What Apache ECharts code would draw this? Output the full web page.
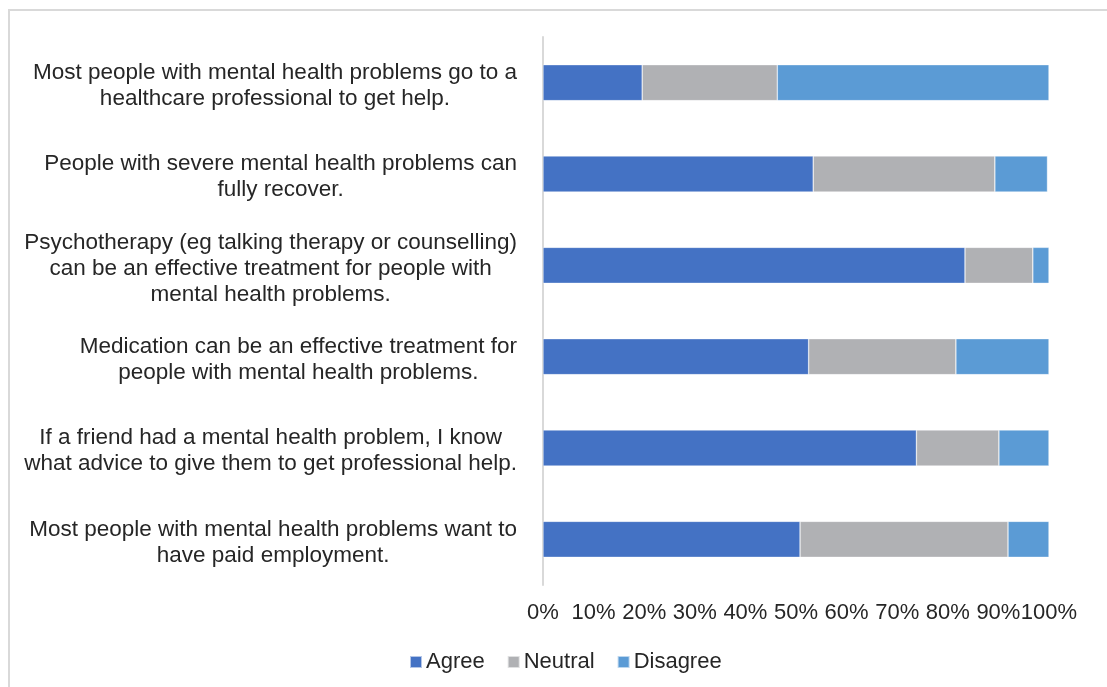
<!DOCTYPE html>
<html>
<head>
<meta charset="utf-8">
<script src="https://cdn.jsdelivr.net/npm/echarts@6/dist/echarts.min.js"></script>
<style>
  html, body { margin: 0; padding: 0; background: #fff; }
  #chart { width: 1107px; height: 687px; }
</style>
</head>
<body>
<div id="chart"></div>
<script>
// Statements, top to bottom (line breaks as they are wrapped on the axis)
const statements = [
  'Most people with mental health problems go to a\nhealthcare professional to get help.',
  'People with severe mental health problems can\nfully recover.',
  'Psychotherapy (eg talking therapy or counselling)\ncan be an effective treatment for people with\nmental health problems.',
  'Medication can be an effective treatment for\npeople with mental health problems.',
  'If a friend had a mental health problem, I know\nwhat advice to give them to get professional help.',
  'Most people with mental health problems want to\nhave paid employment.'
];

// Share of respondents (%) per statement
const agree    = [19.6, 53.4, 83.4, 52.5, 73.8, 50.8];
const neutral  = [26.7, 35.9, 13.4, 29.1, 16.3, 41.1];
const disagree = [53.7, 10.4,  3.2, 18.4,  9.9,  8.1];

const tickLabels = ['0%', '10%', '20%', '30%', '40%', '50%', '60%', '70%', '80%', '90%', '100%'];

const FONT = '"Liberation Sans", Arial, sans-serif';
const TEXT = '#262626';

const chart = echarts.init(document.getElementById('chart'), null, { renderer: 'canvas' });

const barStyle = (color) => ({
  type: 'bar',
  stack: 'total',
  barWidth: 36,
  itemStyle: { color: color, borderColor: 'rgba(255,255,255,0.6)', borderWidth: 0.6 },
  emphasis: { disabled: true }
});

chart.setOption({
  animation: false,
  backgroundColor: '#ffffff',
  textStyle: { fontFamily: FONT, color: TEXT },
  graphic: [{
    type: 'rect',
    silent: true,
    shape: { x: 9, y: 10, width: 1120, height: 700 },
    style: { fill: 'none', stroke: '#d9d9d9', lineWidth: 2 }
  }],
  grid: { left: 543, right: 58, top: 37, bottom: 102, containLabel: false },
  legend: {
    bottom: 9,
    left: 404,
    itemWidth: 12,
    itemHeight: 12,
    itemGap: 22,
    icon: 'rect',
    textStyle: { fontFamily: FONT, fontSize: 22, color: TEXT, padding: [0, 0, 0, -1] },
    data: ['Agree', 'Neutral', 'Disagree']
  },
  xAxis: {
    type: 'value',
    min: 0,
    max: 100,
    interval: 10,
    splitLine: { show: false },
    axisLine: { show: false },
    axisTick: { show: false },
    axisLabel: {
      fontFamily: FONT,
      fontSize: 22,
      color: TEXT,
      margin: 17,
      formatter: (v) => tickLabels[Math.round(v / 10)]
    }
  },
  yAxis: {
    type: 'category',
    inverse: true,
    data: statements,
    axisLine: { show: true, lineStyle: { color: '#d9d9d9', width: 2 } },
    axisTick: { show: false },
    axisLabel: {
      margin: 26,
      align: 'right',
      padding: [6, 0, 0, 0],
      formatter: (s) => s.split('\n').map(l => '{c|' + l + '}').join('\n'),
      rich: {
        c: { align: 'center', fontFamily: FONT, fontSize: 22.5, color: TEXT, lineHeight: 26 }
      }
    }
  },
  series: [
    Object.assign(barStyle('#4472c4'), { name: 'Agree', data: agree }),
    Object.assign(barStyle('#b0b1b4'), { name: 'Neutral', data: neutral }),
    Object.assign(barStyle('#5b9bd5'), { name: 'Disagree', data: disagree })
  ]
});
</script>
</body>
</html>
